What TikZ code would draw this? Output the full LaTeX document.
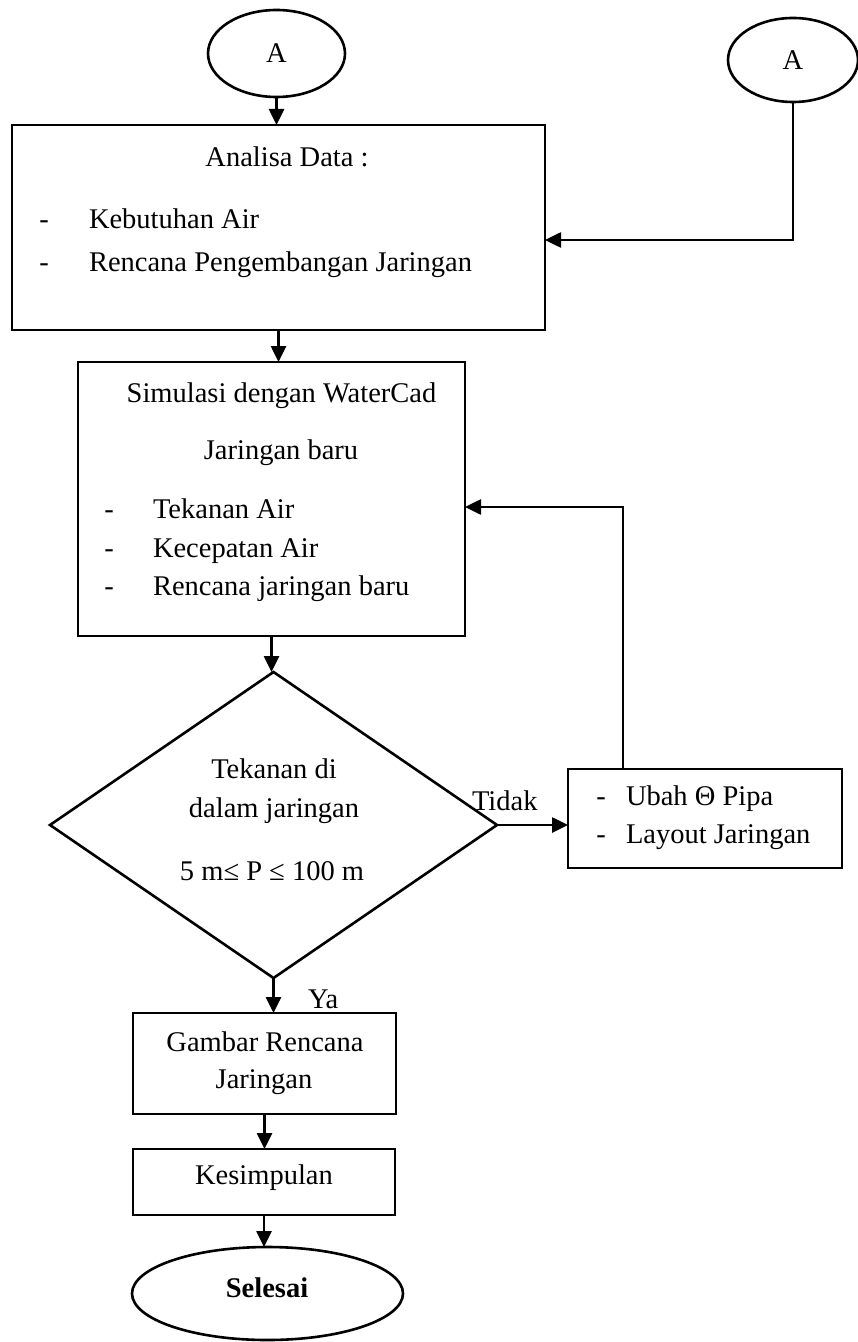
\documentclass[tikz,border=0pt]{standalone}
\usepackage{fontspec}
\setmainfont{Liberation Serif}
\usetikzlibrary{arrows.meta,shapes.geometric}

\begin{document}
\begin{tikzpicture}[x=0.5pt,y=-0.5pt,
  line width=1.3pt,
  every node/.style={font=\fontsize{14.25}{17}\selectfont, inner sep=0pt, outer sep=0pt},
  frame/.style={draw, rectangle, minimum width=#1},
  oval/.style={draw, ellipse},
  txt/.style={anchor=base},
  ltxt/.style={anchor=base west},
  arr/.style={-{Triangle[length=8pt,width=7.5pt]}}
]
% page area
\fill[white] (0,0) rectangle (857,1342);
\useasboundingbox (0,0) rectangle (857,1342);

% connectors (off-page A)
\node[oval, minimum width=68.5pt, minimum height=43.5pt] (circA1) at (276.5,53.5) {A};
\node[oval, minimum width=65pt, minimum height=42pt] (circA2) at (793,60) {A};

% data analysis
\node[frame=266.5pt, minimum height=102.5pt] (box1) at (278.5,227.5) {};
\node[txt]  (t1)   at (287,167) {Analisa Data :};
\node[txt]  (d11)  at (44,229)  {-};
\node[ltxt] (t11)  at (89,229)  {Kebutuhan Air};
\node[txt]  (d12)  at (44,272)  {-};
\node[ltxt] (t12)  at (89,272)  {Rencana Pengembangan Jaringan};

% simulation
\node[frame=193.5pt, minimum height=137pt] (box2) at (271.5,499) {};
\node[txt]  (t2)   at (281.5,402) {Simulasi dengan WaterCad};
\node[txt]  (t2b)  at (281,459)   {Jaringan baru};
\node[txt]  (d21)  at (109,518) {-};
\node[ltxt] (t21)  at (153,518) {Tekanan Air};
\node[txt]  (d22)  at (109,557) {-};
\node[ltxt] (t22)  at (153,557) {Kecepatan Air};
\node[txt]  (d23)  at (109,595) {-};
\node[ltxt] (t23)  at (153,595) {Rencana jaringan baru};

% decision
\node[draw, diamond, minimum width=223.5pt, minimum height=153pt] (dec) at (273.5,825) {};
\node[txt] (q1) at (274,778) {Tekanan di};
\node[txt] (q2) at (274,817) {dalam jaringan};
\node[txt] (q3) at (272,880) {5 m≤ P ≤ 100 m};

% revision
\node[frame=137pt, minimum height=49.5pt] (ubah) at (705,818.5) {};
\node[txt]  (d31) at (601,805) {-};
\node[ltxt] (t31) at (626,805) {Ubah Θ Pipa};
\node[txt]  (d32) at (601,843) {-};
\node[ltxt] (t32) at (626,843) {Layout Jaringan};

\node[ltxt] (tidak) at (472,810) {Tidak};
\node[ltxt] (ya)    at (308,1008) {Ya};

% output
\node[frame=131.5pt, minimum height=50.5pt] (gambar) at (264.5,1063.5) {};
\node[txt] (g1) at (265,1051) {Gambar Rencana};
\node[txt] (g2) at (264,1088) {Jaringan};

\node[frame=131pt, minimum height=33pt] (kes) at (264,1182) {};
\node[txt] (k1) at (264,1184) {Kesimpulan};

\node[oval, minimum width=135.5pt, minimum height=46.5pt] (sel) at (267.5,1293.5) {};
\node[txt] (s1) at (267,1297) {\bfseries Selesai};

% flow lines
\coordinate (inA) at (700,240);
\coordinate (fb) at (623,507);
\draw[arr] (circA1.south) -- (circA1.south |- box1.north);
\draw[arr] (circA2.south) |- (inA -| box1.east);
\draw[arr] (box1.south) -- (box1.south |- box2.north);
\draw[arr] (box2.south) -- (box2.south |- dec.north);
\draw[arr] (dec.east) -- (dec.east -| ubah.west);
\draw[arr] (ubah.north -| fb) |- (box2.east |- fb);
\draw[arr] (dec.south) -- (dec.south |- gambar.north);
\draw[arr] (gambar.south) -- (gambar.south |- kes.north);
\draw[arr] (kes.south) -- (kes.south |- sel.north);
\end{tikzpicture}
\end{document}
